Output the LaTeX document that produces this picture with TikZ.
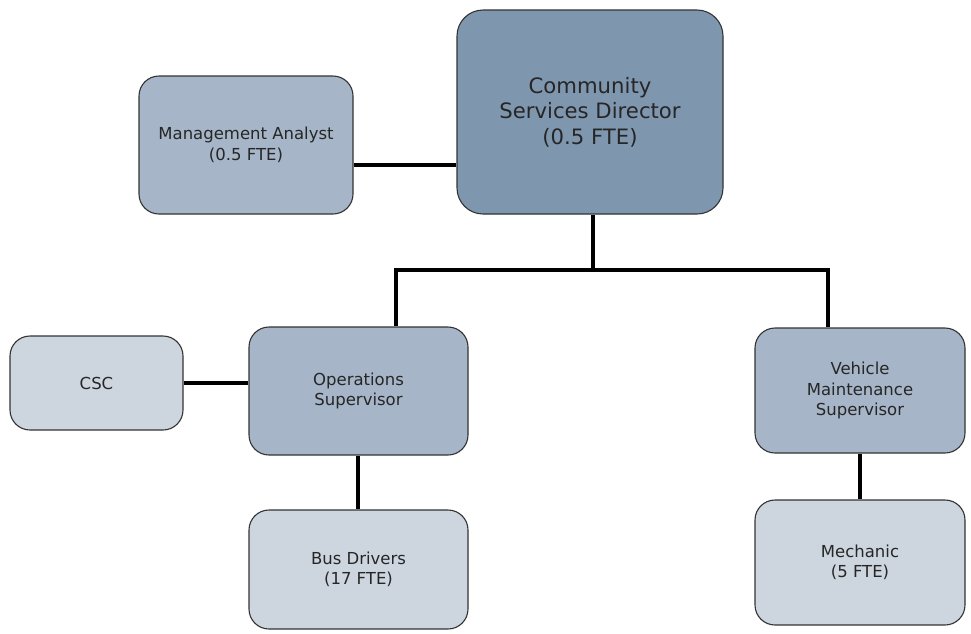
\documentclass[tikz,border=0pt]{standalone}
\usepackage{fontspec}
\setmainfont{DejaVu Sans}
\begin{document}
\begin{tikzpicture}[x=1pt,y=-1pt,
  box/.style={draw=black!80,line width=1.1pt,rounded corners=20pt,align=center,text=black!85,
    font=\fontsize{16.5}{20.5}\selectfont,inner sep=0pt},
  dark/.style={box,fill=dirc,rounded corners=26pt,font=\fontsize{21.2}{25.5}\selectfont},
  mid/.style={box,fill=midc},
  light/.style={box,fill=lightc},
  conn/.style={line width=4pt,black}]
\definecolor{dirc}{HTML}{7F96AF}
\definecolor{midc}{HTML}{A6B5C8}
\definecolor{lightc}{HTML}{CDD5DF}
\useasboundingbox (0,0) rectangle (971,633);
\node[dark,minimum width=266pt,minimum height=204pt] (dir) at (590,112) {Community\\Services Director\\(0.5 FTE)};
\node[mid,minimum width=214pt,minimum height=138pt] (ma) at (246,145) {Management Analyst\\(0.5 FTE)};
\node[mid,minimum width=219pt,minimum height=128pt] (ops) at (358.5,391) {Operations\\Supervisor};
\node[light,minimum width=173pt,minimum height=94pt] (csc) at (96.5,383) {CSC};
\node[light,minimum width=219pt,minimum height=119pt] (bus) at (358.5,569.5) {Bus Drivers\\(17 FTE)};
\node[mid,minimum width=210pt,minimum height=125pt] (vms) at (860,390.5) {Vehicle\\Maintenance\\Supervisor};
\node[light,minimum width=210pt,minimum height=125pt] (mech) at (860,562.5) {Mechanic\\(5 FTE)};
\coordinate (j) at (593,270);
\draw[conn] (ma.east |- 0,165) -- (dir.west |- 0,165);
\draw[conn] (dir.south -| j) -- (j);
\draw[conn] (396,270) -- (828,270);
\draw[conn] (396,268) -- (ops.north -| 396,0);
\draw[conn] (828,268) -- (vms.north -| 828,0);
\draw[conn] (csc.east |- 0,383) -- (ops.west |- 0,383);
\draw[conn] (ops.south -| 358,0) -- (bus.north -| 358,0);
\draw[conn] (vms.south) -- (mech.north);
\end{tikzpicture}
\end{document}
